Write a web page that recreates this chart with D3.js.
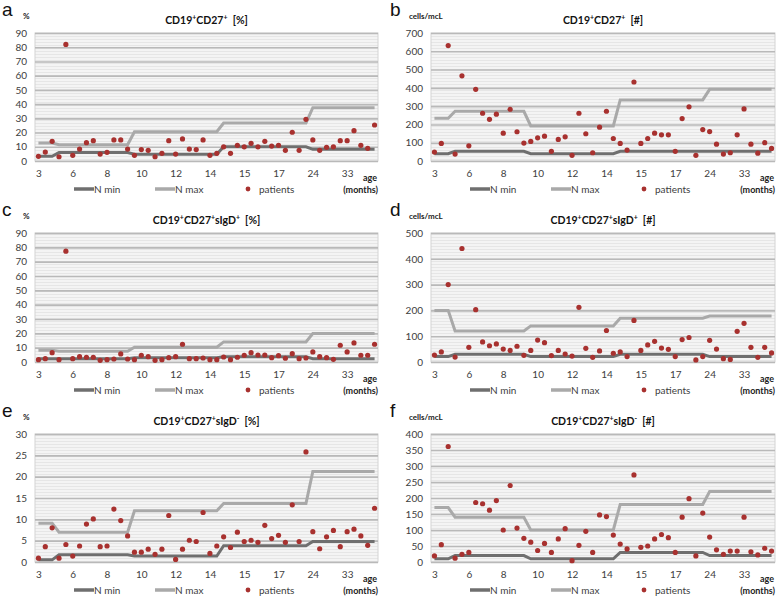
<!DOCTYPE html>
<html><head><meta charset="utf-8">
<script src="https://cdn.jsdelivr.net/npm/d3@7"></script>
<style>body{margin:0;background:#fff}svg{display:block}</style>
</head><body>
<script>
// ---------------- DATA ----------------
const xTickLabels = ["3","6","8","10","12","14","15","17","24","33"];
const groupSizes = [3, 11, 13, 13, 10]; // number of patients in each reference age group

const patientsA = [3.3,6.3,13.8,3,82,4,8.4,12.9,14.3,4.9,6.1,14.8,14.8,8.4,4,8,7.5,3,5.4,14.3,4.9,15.5,8.4,8,14.8,4,5.4,10,5.4,11,10,12.4,10,13.8,10.5,11,7.5,20.2,7.5,29.3,14.8,7.5,9.6,10,14.3,14.3,21.3,11,8.9,25.3];
const nMinA = [3.3, 5.9, 4.7, 10, 8.2];
const nMaxA = [12.7, 11.5, 20.6, 26.7, 37.5];

const patientsB = [49,96,631,38,466,83,392,261,228,256,152,283,160,98,107,127,136,53,118,132,31,261,149,45,185,272,123,96,60,432,96,123,152,143,143,53,232,296,31,172,161,92,38,45,143,285,92,43,100,69];
const nMinB = [40, 53, 40, 53, 53];
const nMaxB = [234, 272, 192, 334, 392];

const patientsC = [1.6,2.3,6.5,1.6,77.3,2.3,3.7,3.3,3.3,1.2,1.6,2.1,5.6,2.1,1.6,4.7,3.7,1.2,1.6,3,3.7,12.4,2.3,2.3,2.8,1.6,1.6,3.5,1.6,3.3,4.7,6.5,4.9,4.9,3,4.4,2.6,5.8,2.3,2.8,7,3.7,3,1.9,11.7,7,13.3,4.7,4.7,12.4];
const nMinC = [2.3, 2.3, 3, 3.7, 2.3];
const nMaxC = [8.2, 7.5, 10.3, 14, 19.9];

const patientsD = [27,39,300,19,440,57,203,78,63,70,50,45,61,26,45,85,75,25,45,31,23,212,53,18,43,122,34,39,21,161,45,66,80,54,49,21,87,95,8,21,84,50,13,10,119,150,57,18,57,35];
const nMinD = [21, 30, 21, 30, 21];
const nMaxD = [200, 120, 140, 170, 178];

const patientsE = [0.9,3.6,8,0.9,4.1,1.4,3.75,8.9,10.1,3.6,3.75,12.4,9.7,6.1,2.3,2.3,3,1.8,3,10.9,0.6,3,5.1,4.8,11.6,2,3.75,5.9,3.4,7,4.8,5.1,4.6,8.6,5.5,6.25,4.6,13.4,4.8,25.8,7.1,3.1,5.9,7.4,3.6,7.1,7.7,6.1,3.9,12.6];
const nMinE = [0.5, 1.7, 1.4, 3.8, 4.8];
const nMaxE = [9.1, 7, 12, 13.7, 21.2];

const patientsF = [19,54,361,12,24,30,186,182,162,192,100,239,106,74,62,36,58,30,72,104,4,52,96,30,147,142,84,56,41,272,46,50,72,86,76,30,140,198,19,153,78,38,24,34,34,140,32,22,43,34];
const nMinF = [10, 20, 10, 30, 20];
const nMaxF = [170, 140, 100, 180, 220];

const panelLetters = ["a","b","c","d","e","f"];
const unitLabels = ["%","cells/mcL","%","cells/mcL","%","cells/mcL"];
const titleSub = ["","","sIgD","sIgD","sIgD","sIgD"];
const titleSubSign = ["","","+","+","-","-"];
const titleSuffix = ["[%]","[#]","[%]","[#]","[%]","[#]"];
const yMaxes = [90, 700, 90, 500, 30, 400];
const ySteps = [10, 100, 10, 100, 5, 50];
const legendLabels = ["N min","N max","patients"];

// ---------------- LAYOUT ----------------
const W = 778, H = 597;
const colX = [[35, 378], [431, 775]];
const rowY = [[33, 161], [233, 362], [434, 562]];
const colMin = "#6f6f6f", colMax = "#a9a9a9", colDot = "#a8312f";
const font = "Lato, 'Liberation Sans', sans-serif";

const svg = d3.select("body").append("svg").attr("width", W).attr("height", H)
  .style("font-family", font);

const defs = svg.append("defs");
const pat = defs.append("pattern").attr("id","bgpat").attr("patternUnits","userSpaceOnUse")
  .attr("width", 3).attr("height", 3);
pat.append("rect").attr("width",3).attr("height",3).attr("fill","#f4f4f4");
pat.append("rect").attr("width",3).attr("height",1).attr("fill","#e6e6e6");

const panels = [
  {p: patientsA, mn: nMinA, mx: nMaxA},
  {p: patientsB, mn: nMinB, mx: nMaxB},
  {p: patientsC, mn: nMinC, mx: nMaxC},
  {p: patientsD, mn: nMinD, mx: nMaxD},
  {p: patientsE, mn: nMinE, mx: nMaxE},
  {p: patientsF, mn: nMinF, mx: nMaxF}
];

function expand(groupVals){
  const out = [];
  groupVals.forEach((v, g) => { for (let k = 0; k < groupSizes[g]; k++) out.push(v); });
  return out;
}

panels.forEach((pd, i) => {
  const col = i % 2, row = Math.floor(i / 2);
  const [x0, x1] = colX[col];
  const [y0, y1] = rowY[row];
  const g = svg.append("g");

  const x = d3.scalePoint().domain(d3.range(pd.p.length)).range([x0, x1]).padding(0.5);
  const y = d3.scaleLinear().domain([0, yMaxes[i]]).range([y1, y0]);
  const ticks = d3.range(0, yMaxes[i] + ySteps[i] / 2, ySteps[i]);

  // plot background
  g.append("rect").attr("x", x0).attr("y", y0).attr("width", x1 - x0).attr("height", y1 - y0)
    .attr("fill", "url(#bgpat)").attr("stroke", "#d4d4d4").attr("stroke-width", 1);

  // gridlines
  const yAxis = d3.axisLeft(y).tickValues(ticks).tickSize(-(x1 - x0)).tickPadding(8);
  const ya = g.append("g").attr("transform", `translate(${x0},0)`).call(yAxis);
  ya.select(".domain").remove();
  ya.selectAll(".tick line").attr("stroke", "#b9b9b9").attr("stroke-width", 1.6);
  ya.selectAll(".tick text").attr("fill", "#404040").style("font-size", "10px").style("font-family", font);

  // x axis labels
  const labelIdx = x.domain().filter(d => d % 5 === 0);
  const xAxis = d3.axisBottom(x).tickValues(labelIdx).tickSize(0).tickPadding(9)
    .tickFormat(d => xTickLabels[d / 5]);
  const xa = g.append("g").attr("transform", `translate(0,${y1})`).call(xAxis);
  xa.select(".domain").remove();
  xa.selectAll(".tick text").attr("fill", "#404040").style("font-size", "10px").style("font-family", font);

  // step lines
  const line = d3.line().x((d, k) => x(k)).y(d => y(d));
  g.append("path").datum(expand(pd.mx)).attr("d", line).attr("fill", "none")
    .attr("stroke", colMax).attr("stroke-width", 3);
  g.append("path").datum(expand(pd.mn)).attr("d", line).attr("fill", "none")
    .attr("stroke", colMin).attr("stroke-width", 3);

  // patients
  g.selectAll("circle.pt").data(pd.p).join("circle").attr("class", "pt")
    .attr("cx", (d, k) => x(k)).attr("cy", d => y(d)).attr("r", 2.6).attr("fill", colDot);

  // panel letter
  g.append("text").attr("x", col ? x0 - 41 : x0 - 33).attr("y", y0 - 17)
    .attr("font-family", "'Liberation Sans', Arial, sans-serif").attr("font-size", 19)
    .attr("fill", "#111").text(panelLetters[i]);
  // unit label
  g.append("text").attr("x", col ? x0 - 22 : x0 - 12).attr("y", y0 - 14)
    .attr("font-size", 8).attr("font-weight", "bold").attr("fill", "#222")
    .text(unitLabels[i]);

  // title
  const t = g.append("text").attr("x", (x0 + x1) / 2).attr("y", y0 - 9)
    .attr("text-anchor", "middle").attr("font-size", 10.5).attr("font-weight", "bold").attr("fill", "#111");
  t.append("tspan").text("CD19");
  t.append("tspan").attr("dy", -4).attr("font-size", 7).text("+");
  t.append("tspan").attr("dy", 4).text("CD27");
  t.append("tspan").attr("dy", -4).attr("font-size", 7).text("+");
  if (titleSub[i]) {
    t.append("tspan").attr("dy", 4).text(titleSub[i]);
    t.append("tspan").attr("dy", -4).attr("font-size", 7).text(titleSubSign[i]);
  }
  t.append("tspan").attr("dy", 4).text("\u00a0 " + titleSuffix[i]);

  // age (months)
  g.append("text").attr("x", x1 - 1).attr("y", y1 + 20).attr("text-anchor", "end")
    .attr("font-size", 9).attr("font-weight", "bold").attr("fill", "#222").text("age");
  g.append("text").attr("x", x1).attr("y", y1 + 32).attr("text-anchor", "end")
    .attr("font-size", 9).attr("font-weight", "bold").attr("fill", "#222").text("(months)");

  // legend
  const ly = y1 + 28;
  const lx = x0 + 39;
  const leg = g.append("g").attr("font-size", 10).attr("fill", "#404040");
  leg.append("line").attr("x1", lx).attr("x2", lx + 20).attr("y1", ly).attr("y2", ly)
    .attr("stroke", colMin).attr("stroke-width", 3.5);
  leg.append("text").attr("x", lx + 20).attr("y", ly + 3.5).text(legendLabels[0]);
  leg.append("line").attr("x1", lx + 81).attr("x2", lx + 101).attr("y1", ly).attr("y2", ly)
    .attr("stroke", colMax).attr("stroke-width", 3.5);
  leg.append("text").attr("x", lx + 101).attr("y", ly + 3.5).text(legendLabels[1]);
  leg.append("circle").attr("cx", lx + 174).attr("cy", ly).attr("r", 2.4).attr("fill", colDot);
  leg.append("text").attr("x", lx + 185).attr("y", ly + 3.5).text(legendLabels[2]);
});
</script>
</body></html>
